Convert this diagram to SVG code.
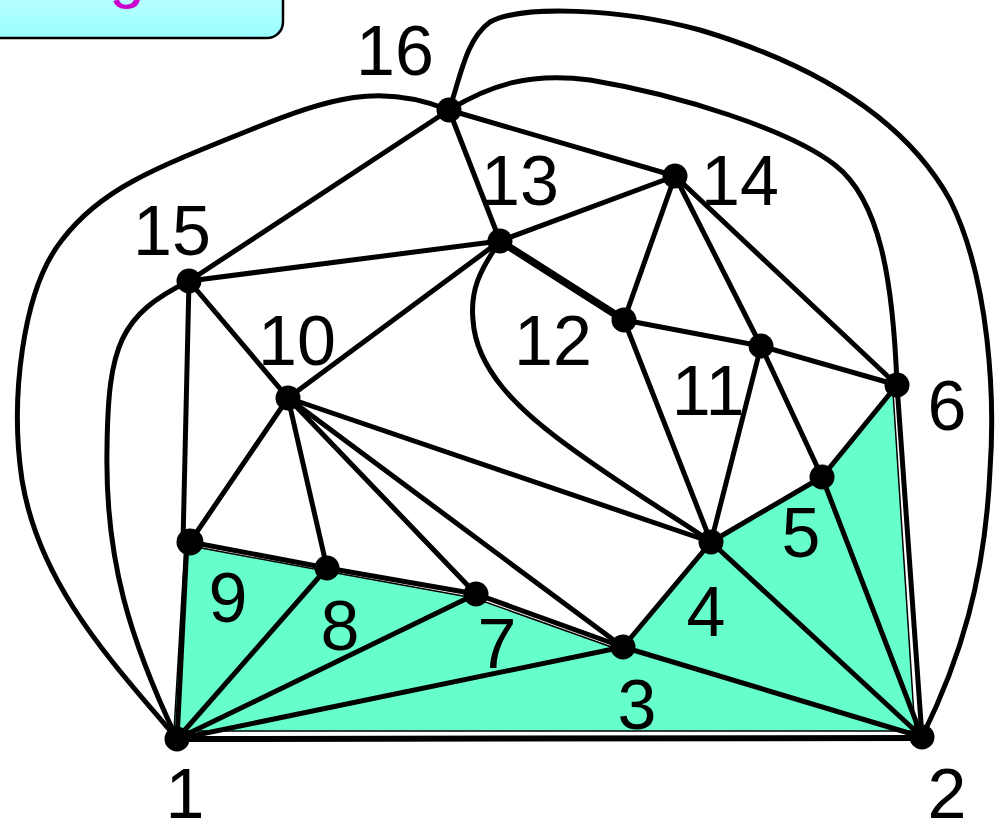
<svg xmlns="http://www.w3.org/2000/svg" width="998" height="821" viewBox="0 0 998 821">
<style>
.e{stroke:#000;stroke-width:5;fill:none;stroke-linecap:round}
.n{fill:#000}
.l{font-family:"Liberation Sans",Arial,sans-serif;font-size:70px;fill:#000;text-anchor:middle}
</style>
<defs>
<linearGradient id="bg" x1="0" y1="0" x2="0" y2="1">
<stop offset="0" stop-color="#d4ffff"/>
<stop offset="1" stop-color="#99ffff"/>
</linearGradient>
</defs>
<rect width="998" height="821" fill="#fff"/>
<g id="title">
<rect x="-30" y="-40" width="313" height="78" rx="16" fill="url(#bg)" stroke="#000" stroke-width="2.5"/>
<text x="127" y="-4" font-family="Liberation Sans,Arial,sans-serif" font-size="64" fill="#cc00cc" text-anchor="middle">g</text>
</g>
<g id="region">
<polygon points="174,731 185,545 325,571 474,598 620,650 711,542 822,477 893,392 915,731" fill="#66ffcc" stroke="#000" stroke-width="1.5"/>
</g>
<g id="connectors">
<line class="e" x1="449" y1="110" x2="189" y2="281"/>
<line class="e" x1="449" y1="110" x2="500" y2="241"/>
<line class="e" x1="449" y1="110" x2="675" y2="176"/>
<line class="e" x1="189" y1="281" x2="500" y2="241"/>
<line class="e" x1="189" y1="281" x2="288" y2="398"/>
<line class="e" x1="189" y1="281" x2="183" y2="542"/>
<line class="e" x1="500" y1="241" x2="675" y2="176"/>
<line class="e" x1="500" y1="241" x2="288" y2="398"/>
<line class="e" x1="500" y1="241" x2="624" y2="320" style="stroke-width:7.5"/>
<line class="e" x1="675" y1="176" x2="624" y2="320"/>
<line class="e" x1="675" y1="176" x2="761" y2="346"/>
<line class="e" x1="675" y1="176" x2="897" y2="385"/>
<line class="e" x1="624" y1="320" x2="761" y2="346"/>
<line class="e" x1="624" y1="320" x2="711" y2="542"/>
<line class="e" x1="761" y1="346" x2="897" y2="385"/>
<line class="e" x1="761" y1="346" x2="711" y2="542"/>
<line class="e" x1="761" y1="346" x2="822" y2="477"/>
<line class="e" x1="288" y1="398" x2="190" y2="542"/>
<line class="e" x1="288" y1="398" x2="327" y2="568"/>
<line class="e" x1="288" y1="398" x2="476" y2="594"/>
<line class="e" x1="288" y1="398" x2="623" y2="647"/>
<line class="e" x1="288" y1="398" x2="711" y2="542"/>
<line class="e" x1="190" y1="542" x2="327" y2="568"/>
<line class="e" x1="187" y1="542" x2="177" y2="739"/>
<line class="e" x1="327" y1="568" x2="476" y2="594"/>
<line class="e" x1="327" y1="568" x2="177" y2="739"/>
<line class="e" x1="476" y1="594" x2="623" y2="647"/>
<line class="e" x1="476" y1="594" x2="177" y2="739"/>
<line class="e" x1="623" y1="647" x2="177" y2="739"/>
<line class="e" x1="623" y1="647" x2="711" y2="542"/>
<line class="e" x1="623" y1="647" x2="922" y2="737"/>
<line class="e" x1="711" y1="542" x2="822" y2="477"/>
<line class="e" x1="711" y1="542" x2="922" y2="737"/>
<line class="e" x1="822" y1="477" x2="897" y2="385"/>
<line class="e" x1="822" y1="477" x2="922" y2="737"/>
<line class="e" x1="897" y1="385" x2="922" y2="737"/>
<line class="e" x1="177" y1="739" x2="922" y2="738" style="stroke-width:6"/>
<path class="e" d="M177,739 C120,670 40,590 22,480 C10,400 22,290 62,240 C100,190 150,170 250,130 C330,98 380,82 449,110"/>
<path class="e" d="M177,739 C130,640 105,560 107,450 C108,345 120,315 189,281"/>
<path class="e" d="M449,110 C460,80 465,40 490,22 C520,5 620,8 700,30 C800,60 900,110 950,200 C990,280 995,400 990,470 C985,580 960,660 922,737"/>
<path class="e" d="M449,110 C490,85 530,72 590,80 C680,95 790,130 835,165 C880,200 893,280 897,385"/>
<path class="e" d="M500,241 C480,270 470,290 473,320 C476,370 520,410 560,440 C620,485 680,520 711,542"/>
</g>
<g id="n1"><circle class="n" cx="177" cy="739" r="12.5"/><text class="l" x="185" y="818">1</text></g>
<g id="n2"><circle class="n" cx="922" cy="737" r="12.5"/><text class="l" x="947" y="818">2</text></g>
<g id="n3"><circle class="n" cx="623" cy="647" r="12.5"/><text class="l" x="637" y="729">3</text></g>
<g id="n4"><circle class="n" cx="711" cy="542" r="12.5"/><text class="l" x="706" y="636">4</text></g>
<g id="n5"><circle class="n" cx="822" cy="477" r="12.5"/><text class="l" x="801" y="557">5</text></g>
<g id="n6"><circle class="n" cx="897" cy="385" r="12.5"/><text class="l" x="947" y="430">6</text></g>
<g id="n7"><circle class="n" cx="476" cy="594" r="12.5"/><text class="l" x="497" y="668">7</text></g>
<g id="n8"><circle class="n" cx="327" cy="568" r="12.5"/><text class="l" x="340" y="650">8</text></g>
<g id="n9"><circle class="n" cx="190" cy="542" r="13.5"/><text class="l" x="228" y="622">9</text></g>
<g id="n10"><circle class="n" cx="288" cy="398" r="12.5"/><text class="l" x="297" y="365">10</text></g>
<g id="n11"><circle class="n" cx="761" cy="346" r="12.5"/><text class="l" x="708" y="415">11</text></g>
<g id="n12"><circle class="n" cx="624" cy="320" r="12.5"/><text class="l" x="553" y="365">12</text></g>
<g id="n13"><circle class="n" cx="500" cy="241" r="12.5"/><text class="l" x="520" y="205">13</text></g>
<g id="n14"><circle class="n" cx="675" cy="176" r="12.5"/><text class="l" x="740" y="205">14</text></g>
<g id="n15"><circle class="n" cx="189" cy="281" r="12.5"/><text class="l" x="172" y="255">15</text></g>
<g id="n16"><circle class="n" cx="449" cy="110" r="12.5"/><text class="l" x="395" y="75">16</text></g>
</svg>
